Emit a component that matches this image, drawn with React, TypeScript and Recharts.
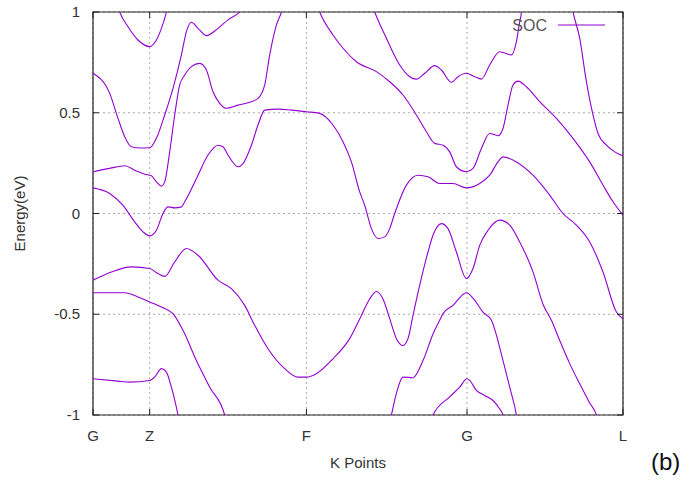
import React from 'react'
import {
  LineChart, Line, XAxis, YAxis, CartesianGrid, ReferenceArea,
} from 'recharts'

// k = distance along the path (G..L), e = energy in eV
const K_TICKS = [0, 56.7, 213.4, 374, 530]
const K_LABELS = ['G', 'Z', 'F', 'G', 'L']
const E_TICKS = [-1, -0.5, 0, 0.5, 1]
const E_LABELS = ['-1', '-0.5', '0', '0.5', '1']

const band1: [number, number][] = [
  [24, 1.04], [26.7, 1.0], [35, 0.927], [45, 0.861], [56.7, 0.828],
  [63.4, 0.861], [68.4, 0.919], [73.4, 1.0], [75, 1.04],
]
const band2: [number, number][] = [
  [0, 0.696], [16.7, 0.596], [25, 0.472], [31.7, 0.381], [38.4, 0.331],
  [47, 0.325], [56.7, 0.326], [63.4, 0.373], [71.7, 0.489], [80, 0.621],
  [88.4, 0.787], [93.4, 0.903], [98.4, 0.949], [105, 0.919], [113.4, 0.883],
  [125, 0.919], [135, 0.961], [146.7, 1.0], [150, 1.02],
]
const band3: [number, number][] = [
  [0, 0.207], [16.7, 0.224], [31.7, 0.237], [41.7, 0.215], [51.7, 0.195],
  [58.4, 0.187], [63.4, 0.157], [68.4, 0.136], [71.7, 0.157], [76.7, 0.306],
  [81.7, 0.489], [86.7, 0.638], [91.7, 0.687], [98.4, 0.729], [106.7, 0.745],
  [113.4, 0.712], [120, 0.604], [126.7, 0.547], [133.4, 0.522], [145, 0.538],
  [155, 0.55], [165, 0.571], [171.7, 0.638], [176.7, 0.787], [183.4, 0.935],
  [188.4, 1.0], [190, 1.03],
]
const band4: [number, number][] = [
  [0, 0.127], [16.7, 0.099], [30, 0.04], [41.7, -0.042], [50, -0.091],
  [56.7, -0.111], [63.4, -0.083], [70, 0.0], [75, 0.033], [81.7, 0.028],
  [88.4, 0.033], [91.7, 0.058], [105, 0.19], [115, 0.29], [125, 0.339],
  [130, 0.331], [135, 0.29], [145, 0.232], [150, 0.248], [158.4, 0.339],
  [165, 0.439], [171.7, 0.513], [185, 0.518], [198.4, 0.513], [213.4, 0.505],
  [226.7, 0.497], [240, 0.439], [250, 0.356], [258.4, 0.256], [266.7, 0.107],
  [271.7, 0.041], [278.4, -0.075], [285, -0.124], [291.7, -0.116], [296.7, -0.075],
  [301.7, 0.0], [313.4, 0.141], [325, 0.19], [335, 0.182], [346.7, 0.149],
  [360, 0.149], [373.4, 0.127], [386.7, 0.149], [396.7, 0.19], [405, 0.256],
  [410, 0.281], [423.4, 0.256], [440, 0.19], [456.7, 0.091], [470, 0.0],
  [483.4, -0.058], [496.7, -0.141], [510, -0.29], [523.4, -0.489], [530, -0.522],
]
const band5: [number, number][] = [
  [223, 1.05], [226.7, 1.0], [240, 0.886], [250, 0.82], [263.4, 0.753],
  [283.4, 0.704], [296.7, 0.654], [310, 0.588], [323.4, 0.489], [333.4, 0.406],
  [341.7, 0.348], [350, 0.339], [356.7, 0.306], [363.4, 0.232], [373.4, 0.207],
  [380, 0.224], [388.4, 0.323], [396.7, 0.397], [405, 0.386], [410, 0.422],
  [415, 0.538], [420, 0.638], [425, 0.657], [433.4, 0.629], [446.7, 0.555],
  [463.4, 0.472], [480, 0.373], [496.7, 0.256], [510, 0.141], [520, 0.058],
  [530, -0.008],
]
const band6: [number, number][] = [
  [278, 1.05], [281.7, 1.0], [293.4, 0.87], [306.7, 0.737], [316.7, 0.679],
  [323.4, 0.667], [331.7, 0.696], [341.7, 0.734], [348.4, 0.712], [358.4, 0.651],
  [365, 0.679], [373.4, 0.696], [381.7, 0.679], [388.4, 0.667], [396.7, 0.737],
  [406.7, 0.803], [418.4, 0.787], [423.4, 0.853], [426.7, 0.952], [428.4, 1.0],
  [429, 1.05],
]
const band7: [number, number][] = [
  [478, 1.05], [480, 1.0], [486.7, 0.87], [493.4, 0.654], [500, 0.489],
  [505, 0.397], [513.4, 0.339], [521.7, 0.306], [530, 0.286],
]
const band8: [number, number][] = [
  [0, -0.331], [18.4, -0.29], [38.4, -0.265], [56.7, -0.273], [65, -0.298],
  [71.7, -0.312], [81.7, -0.24], [93.4, -0.174], [105, -0.207], [125, -0.331],
  [138.4, -0.373], [151.7, -0.456], [161.7, -0.555], [175, -0.671], [191.7, -0.77],
  [205, -0.812], [213.4, -0.812], [223.4, -0.795], [240, -0.721], [256.7, -0.621],
  [268.4, -0.506], [276.7, -0.424], [283.4, -0.387], [290, -0.424], [296.7, -0.522],
  [303.4, -0.621], [310, -0.655], [315, -0.621], [320, -0.506], [326.7, -0.356],
  [335, -0.191], [340, -0.108], [348.4, -0.05], [355, -0.075], [363.4, -0.191],
  [373.4, -0.323], [380, -0.273], [386.7, -0.158], [395, -0.083], [406.7, -0.033],
  [416.7, -0.058], [426.7, -0.141], [440, -0.29], [450, -0.45], [458.4, -0.53],
  [466.7, -0.63], [476.7, -0.745], [486.7, -0.845], [496.7, -0.94], [503.4, -1.0],
  [506, -1.05],
]
const band9: [number, number][] = [
  [0, -0.393], [31.7, -0.393], [45, -0.414], [56.7, -0.439], [68.4, -0.464],
  [80, -0.497], [90, -0.58], [103.4, -0.73], [116.7, -0.862], [131.7, -1.0],
  [134, -1.05],
]
const band10: [number, number][] = [
  [0, -0.82], [25, -0.832], [36.7, -0.837], [56.7, -0.829], [62, -0.81],
  [68.4, -0.77], [73.4, -0.787], [78.4, -0.862], [85, -1.0], [87, -1.05],
]
const band11: [number, number][] = [
  [296, -1.05], [298.4, -1.0], [303, -0.9], [310, -0.812], [320, -0.815],
  [330, -0.73], [340, -0.598], [346.7, -0.53], [350, -0.497], [360, -0.456],
  [373.4, -0.393], [380, -0.42], [390, -0.489], [398.4, -0.53], [410, -0.73],
  [416.7, -0.862], [423.4, -1.0], [425, -1.05],
]
const band12: [number, number][] = [
  [338, -1.05], [340, -1.0], [356.7, -0.91], [366.7, -0.862], [374, -0.82],
  [376.7, -0.828], [383.4, -0.878], [391.7, -0.903], [400, -0.928], [406.7, -0.97],
  [410, -1.0], [412, -1.05],
]

const BANDS = [band1, band2, band3, band4, band5, band6, band7, band8, band9, band10, band11, band12]

const LEFT = 93
const RIGHT = 623
const TOP = 12
const BOTTOM = 415
const COLOR = '#9400d3'
const FONT = '"Liberation Sans", Arial, sans-serif'

const XTick = (props: any) => {
  const { x, payload } = props
  const i = K_TICKS.indexOf(payload.value)
  return (
    <g>
      <line x1={x} x2={x} y1={BOTTOM} y2={BOTTOM - 6} stroke="#222" />
      <line x1={x} x2={x} y1={TOP} y2={TOP + 6} stroke="#222" />
      <text x={x} y={441} textAnchor="middle" fontSize={15} fill="#333" fontFamily={FONT}>
        {K_LABELS[i]}
      </text>
    </g>
  )
}

const YTick = (props: any) => {
  const { y, payload } = props
  const i = E_TICKS.indexOf(payload.value)
  return (
    <g>
      <line x1={LEFT} x2={LEFT + 6} y1={y} y2={y} stroke="#222" />
      <line x1={RIGHT} x2={RIGHT - 6} y1={y} y2={y} stroke="#222" />
      <text x={80} y={y + 5} textAnchor="end" fontSize={15} fill="#333" fontFamily={FONT}>
        {E_LABELS[i]}
      </text>
    </g>
  )
}

export default function App() {
  return (
    <div style={{ position: 'absolute', left: 0, top: 0, width: 691, height: 490, background: '#fff' }}>
      <LineChart width={691} height={490} margin={{ top: 12, right: 68, left: 0, bottom: 0 }}>
        <CartesianGrid stroke="#a8a8a8" strokeDasharray="2 3" />
        <XAxis
          type="number"
          dataKey="k"
          domain={[0, 530]}
          ticks={K_TICKS}
          allowDataOverflow
          height={75}
          axisLine={false}
          tickLine={false}
          tick={<XTick />}
          label={{ value: 'K Points', position: 'insideBottom', offset: 22, fontSize: 15, fill: '#333', fontFamily: FONT }}
        />
        <YAxis
          type="number"
          domain={[-1, 1]}
          ticks={E_TICKS}
          allowDataOverflow
          width={93}
          axisLine={false}
          tickLine={false}
          tick={<YTick />}
          label={{ value: 'Energy(eV)', angle: -90, position: 'insideLeft', offset: 20, fontSize: 15, fill: '#333', fontFamily: FONT, style: { textAnchor: 'middle' } }}
        />
        <ReferenceArea x1={0} x2={530} y1={-1} y2={1} fill="none" stroke="#222" strokeWidth={1.2} />
        {BANDS.map((b, i) => (
          <Line
            key={i}
            data={b.map(([k, e]) => ({ k, e }))}
            dataKey="e"
            type="monotone"
            stroke={COLOR}
            strokeWidth={1.1}
            dot={false}
            isAnimationActive={false}
          />
        ))}
      </LineChart>
      <svg width={110} height={24} style={{ position: 'absolute', left: 512, top: 13 }}>
        <text x={35} y={18} textAnchor="end" fontSize={16} fill="#555" fontFamily={FONT}>SOC</text>
        <line x1={46} x2={93} y1={12} y2={12} stroke={COLOR} strokeWidth={1.2} />
      </svg>
      <div style={{ position: 'absolute', left: 651, top: 448, fontSize: 24, fontFamily: FONT, color: '#111' }}>(b)</div>
    </div>
  )
}
